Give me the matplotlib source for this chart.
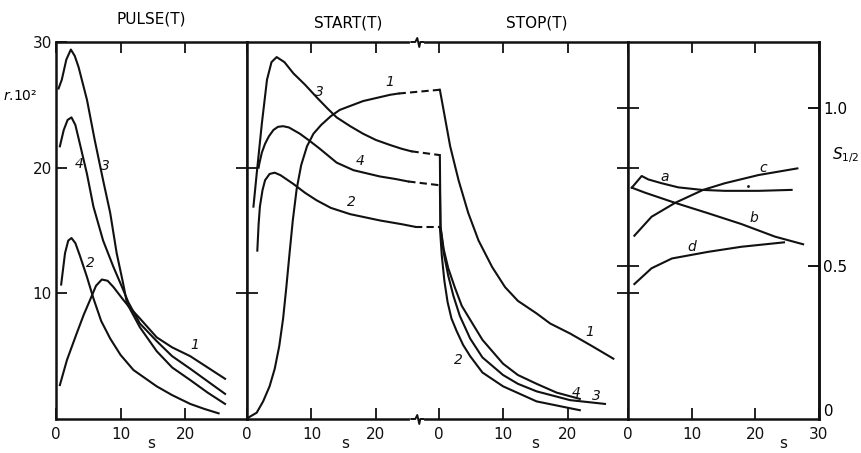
import matplotlib.pyplot as plt
from matplotlib.transforms import blended_transform_factory

# ---- data (r in units of 1e-2, s in seconds) ----
# PULSE(T)
pulse_s1 = [0.6, 1.7, 3.2, 4.3, 5.3, 6.2, 7.1, 8.0, 8.9, 10.4, 11.2, 13.0, 15.6, 18.0, 20.8, 23.5, 26.2]
pulse_r1 = [2.7, 4.7, 6.8, 8.3, 9.5, 10.6, 11.1, 11.0, 10.5, 9.5, 9.0, 8.0, 6.5, 5.7, 5.0, 4.1, 3.2]
pulse_s2 = [0.8, 1.4, 1.9, 2.4, 3.0, 3.7, 4.8, 5.8, 7.0, 8.4, 10.0, 12.0, 15.6, 18.0, 20.8, 23.0, 25.2]
pulse_r2 = [10.7, 13.2, 14.2, 14.4, 14.0, 13.0, 11.3, 9.6, 7.8, 6.4, 5.1, 3.9, 2.6, 1.9, 1.2, 0.8, 0.45]
pulse_s3 = [0.4, 0.9, 1.6, 2.3, 2.9, 3.5, 4.8, 6.0, 7.3, 8.4, 9.4, 10.4, 11.0, 13.0, 15.6, 18.0, 20.8, 23.5, 26.2]
pulse_r3 = [26.3, 27.0, 28.6, 29.4, 28.9, 28.0, 25.4, 22.2, 19.0, 16.4, 13.2, 10.8, 9.2, 7.3, 5.4, 4.1, 3.1, 2.1, 1.2]
pulse_s4 = [0.6, 1.2, 1.8, 2.4, 3.0, 3.7, 4.8, 5.8, 7.3, 8.9, 10.4, 11.2, 13.0, 15.6, 18.0, 20.8, 23.5, 26.2]
pulse_r4 = [21.7, 23.0, 23.8, 24.0, 23.4, 21.9, 19.5, 16.9, 14.2, 12.1, 10.3, 9.3, 7.6, 6.2, 5.0, 4.0, 3.0, 2.0]

# START(T)
start_s1 = [0.0, 1.5, 2.5, 3.5, 4.3, 5.0, 5.6, 6.1, 6.6, 7.1, 7.7, 8.4, 9.3, 10.3, 11.5, 13.0, 14.4, 18.0, 22.2, 23.5]
start_r1 = [0.05, 0.5, 1.4, 2.6, 4.0, 5.8, 8.0, 10.5, 13.2, 15.8, 18.3, 20.2, 21.7, 22.7, 23.4, 24.1, 24.6, 25.3, 25.8, 25.9]
start_s2 = [1.6, 1.8, 2.0, 2.4, 2.8, 3.5, 4.3, 5.2, 7.2, 9.0, 10.8, 13.0, 16.0, 20.6, 24.0, 26.0]
start_r2 = [13.4, 15.5, 16.9, 18.2, 19.0, 19.5, 19.6, 19.4, 18.7, 18.0, 17.4, 16.8, 16.3, 15.8, 15.5, 15.3]
start_s3 = [1.0, 1.5, 2.3, 3.1, 3.8, 4.6, 5.8, 7.2, 9.0, 10.8, 12.5, 13.9, 16.0, 18.0, 20.0, 22.2, 24.0, 25.5]
start_r3 = [16.9, 19.5, 23.5, 27.0, 28.4, 28.8, 28.4, 27.5, 26.6, 25.6, 24.7, 24.0, 23.3, 22.7, 22.2, 21.8, 21.5, 21.3]
start_s4 = [1.8, 1.9, 2.3, 2.8, 3.4, 4.1, 4.8, 5.6, 6.5, 8.2, 9.8, 11.3, 13.9, 16.5, 20.6, 23.0, 25.0]
start_r4 = [20.0, 20.3, 21.2, 21.9, 22.5, 23.0, 23.25, 23.3, 23.2, 22.7, 22.1, 21.5, 20.4, 19.8, 19.3, 19.1, 18.9]

# STOP(T)
stop_s1 = [0.2, 0.7, 1.8, 3.1, 4.6, 6.2, 8.3, 10.3, 12.3, 15.2, 17.3, 20.4, 23.8, 27.1]
stop_r1 = [26.2, 24.8, 21.7, 19.0, 16.4, 14.2, 12.1, 10.5, 9.4, 8.4, 7.6, 6.8, 5.8, 4.8]
stop_s2 = [0.2, 0.5, 0.9, 1.4, 2.0, 2.8, 3.8, 4.9, 6.8, 10.0, 15.2, 21.9]
stop_r2 = [15.3, 13.0, 11.0, 9.3, 8.0, 7.0, 5.9, 5.0, 3.7, 2.6, 1.4, 0.7]
stop_s3 = [0.2, 0.3, 0.8, 1.5, 2.3, 3.3, 4.9, 6.8, 10.0, 12.3, 15.2, 20.4, 25.8]
stop_r3 = [21.0, 15.3, 13.2, 11.4, 9.8, 8.2, 6.4, 4.9, 3.5, 2.8, 2.2, 1.5, 1.2]
stop_s4 = [0.2, 0.3, 0.8, 1.5, 2.5, 3.6, 4.9, 6.8, 10.0, 12.3, 15.2, 18.3, 21.9]
stop_r4 = [18.6, 15.3, 13.5, 12.0, 10.5, 9.0, 7.9, 6.3, 4.4, 3.5, 2.8, 2.1, 1.6]

# S_1/2 panel
half_sa = [0.6, 2.15, 3.2, 5.3, 7.9, 11.6, 15.2, 20.5, 25.7]
half_a = [0.748, 0.785, 0.774, 0.762, 0.749, 0.741, 0.738, 0.738, 0.741]
half_sb = [0.6, 2.7, 7.4, 12.6, 17.8, 23.1, 27.5]
half_b = [0.748, 0.732, 0.700, 0.667, 0.633, 0.593, 0.569]
half_sc = [1.0, 3.7, 7.4, 11.8, 15.2, 20.5, 26.6]
half_c = [0.596, 0.656, 0.700, 0.741, 0.762, 0.788, 0.809]
half_sd = [1.0, 3.7, 6.9, 12.6, 17.8, 24.5]
half_d = [0.443, 0.493, 0.524, 0.545, 0.561, 0.575]

s_ticks = [0, 10, 20]
r_ticks = [10, 20, 30]
half_ticks = [0.5, 1.0]

# ---- layout (pixel boxes of the original figure) ----
W, H = 861, 453
TOP, BOT = 42, 419
STOP_OFF = 29.7     # where STOP(T) zero sits on the shared axis
BREAK_AT = 26.4     # axis break between START and STOP
R_LIM = (0, 30)
S_LIM = (0.016, 1.209)
LW = 1.5
INK = '#111111'
S_Y = -(444 - BOT) / (BOT - TOP)   # height of the "s" axis labels


def box(x0, x1):
    return [x0 / W, 1 - BOT / H, (x1 - x0) / W, (BOT - TOP) / H]


plt.rcParams['font.family'] = 'DejaVu Sans'
fig = plt.figure(figsize=(W / 100, H / 100), dpi=100)
ax1 = fig.add_axes(box(56, 247))
ax2 = fig.add_axes(box(247, 628))
ax3 = fig.add_axes(box(628, 819))

for ax in (ax1, ax2, ax3):
    for sp in ax.spines.values():
        sp.set_linewidth(1.8)
        sp.set_color(INK)
    ax.tick_params(direction='in', length=8, width=1.3, colors=INK,
                   labelsize=11, top=True, pad=6)

s_lab = dict(ha='center', va='center', fontsize=11, color=INK)
lab = dict(fontsize=10, style='italic', ha='center', va='center', color=INK)

# PULSE panel
for s, r in [(pulse_s1, pulse_r1), (pulse_s2, pulse_r2), (pulse_s3, pulse_r3), (pulse_s4, pulse_r4)]:
    ax1.plot(s, r, color=INK, lw=LW)
ax1.set_xlim(0, 29.6)
ax1.set_ylim(*R_LIM)
ax1.set_xticks(s_ticks)
ax1.set_yticks(r_ticks)
ax1.tick_params(axis='y', right=False, pad=3)
ax1.text(0.5, S_Y, 's', transform=ax1.transAxes, **s_lab)
ax1.set_title('PULSE(T)', fontsize=11, pad=13)
for txt, x, y in [('1', 21.5, 5.9), ('2', 5.4, 12.4), ('3', 7.6, 20.1), ('4', 3.6, 20.3)]:
    ax1.text(x, y, txt, **lab)

# START / STOP panel (one axis with a break)
start = [(start_s1, start_r1), (start_s2, start_r2), (start_s3, start_r3), (start_s4, start_r4)]
stop = [(stop_s1, stop_r1), (stop_s2, stop_r2), (stop_s3, stop_r3), (stop_s4, stop_r4)]
for (s0, r0), (s1, r1) in zip(start, stop):
    u1 = [v + STOP_OFF for v in s1]
    ax2.plot(s0, r0, color=INK, lw=LW)
    ax2.plot([s0[-1], u1[0]], [r0[-1], r1[0]], color=INK, lw=LW, ls=(0, (3.5, 2)))
    ax2.plot(u1, r1, color=INK, lw=LW)
ax2.set_xlim(0, 59.07)
ax2.set_ylim(*R_LIM)
ax2.set_xticks(s_ticks + [v + STOP_OFF for v in s_ticks])
ax2.set_xticklabels([str(v) for v in s_ticks] * 2)
ax2.set_yticks(r_ticks[:2])
ax2.set_yticklabels([])
ax2.tick_params(axis='y', direction='inout', length=16, right=False)

tr2 = blended_transform_factory(ax2.transData, ax2.transAxes)
ax2.text(15.7, 1.05, 'START(T)', transform=tr2, ha='center', va='center', fontsize=11)
ax2.text(STOP_OFF + 15.2, 1.05, 'STOP(T)', transform=tr2, ha='center', va='center', fontsize=11)
ax2.text(15.2, S_Y, 's', transform=tr2, **s_lab)
ax2.text(STOP_OFF + 15.0, S_Y, 's', transform=tr2, **s_lab)
for txt, x, y in [('3', 11.2, 26.0), ('1', 22.1, 26.8), ('4', 17.5, 20.5), ('2', 16.2, 17.3)]:
    ax2.text(x, y, txt, **lab)
for txt, x, y in [('2', 3.1, 4.7), ('1', 23.4, 6.9), ('4', 21.4, 2.1), ('3', 24.5, 1.8)]:
    ax2.text(x + STOP_OFF, y, txt, **lab)

# axis break marks on top and bottom spines
px = 1 / 6.45
py = 1 / (BOT - TOP)
zig_x = [-6, -2, 0, 2, 3, 6]
zig_y = [0, 0, 4, -5, 0, 0]
for base in (0, 1):
    ax2.plot([BREAK_AT - 5 * px, BREAK_AT + 5 * px], [base, base], color='white', lw=3,
             transform=tr2, clip_on=False, zorder=5)
    ax2.plot([BREAK_AT + v * px for v in zig_x], [base + v * py for v in zig_y],
             color=INK, lw=1.4, transform=tr2, clip_on=False, zorder=6)

# S_1/2 panel
for s, v in [(half_sa, half_a), (half_sb, half_b), (half_sc, half_c), (half_sd, half_d)]:
    ax3.plot(s, v, color=INK, lw=LW)
ax3.set_xlim(0, 30)
ax3.set_ylim(*S_LIM)
ax3.set_xticks([0, 10, 20, 30])
# left spine ticks cross into the STOP panel: r = 10, 20 and S = 0.5, 1.0
r_as_s = [S_LIM[0] + (r - R_LIM[0]) / (R_LIM[1] - R_LIM[0]) * (S_LIM[1] - S_LIM[0]) for r in r_ticks[:2]]
ax3.set_yticks(sorted(r_as_s + half_ticks))
ax3.set_yticklabels([])
ax3.tick_params(axis='y', direction='inout', length=16, right=False)
sec = ax3.secondary_yaxis('right')
sec.set_yticks(half_ticks)
sec.set_yticklabels(['0.5', '1.0'])
sec.tick_params(direction='in', length=8, width=1.3, labelsize=11, pad=3)
sec.spines['right'].set_linewidth(1.8)
ax3.text(1.0, 0.0, ' 0', transform=ax3.transAxes, ha='left', va='bottom', fontsize=11)
ax3.text(0.81, S_Y, 's', transform=ax3.transAxes, **s_lab)
for txt, x, y in [('a', 5.7, 0.783), ('b', 19.7, 0.651), ('c', 21.3, 0.809), ('d', 10.0, 0.561)]:
    ax3.text(x, y, txt, **lab)
ax3.plot([18.9], [0.753], marker='.', ms=2, color=INK)

fig.text(20 / W, 1 - 96 / H, '$r$.10²', ha='center', va='center', fontsize=10)
fig.text(846 / W, 1 - 155 / H, '$S_{1/2}$', ha='center', va='center', fontsize=11)

fig.savefig('out.png', dpi=100)
